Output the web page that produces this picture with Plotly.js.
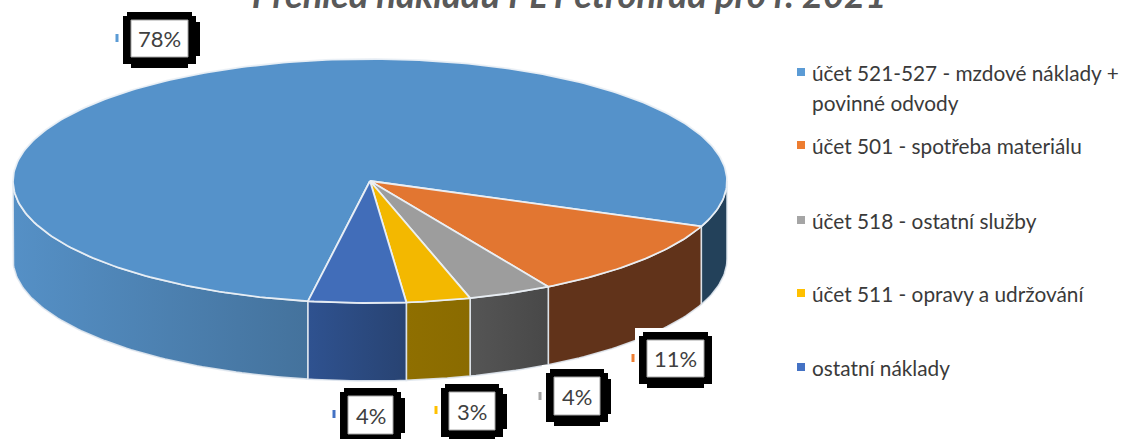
<!DOCTYPE html>
<html><head><meta charset="utf-8">
<script src="https://cdn.plot.ly/plotly-3.0.1.min.js"></script>
<style>html,body{margin:0;padding:0;background:#fff;overflow:hidden}</style>
</head><body><div id="chart" style="width:1135px;height:439px"></div>
<script>
// --- data ---
const categories = ['účet 521-527 - mzdové náklady +<br>povinné odvody','účet 501 - spotřeba materiálu','účet 518 - ostatní služby','účet 511 - opravy a udržování','ostatní náklady'];
const shares = [78.3, 10.6, 3.8, 2.9, 4.4];
const titleText = 'Přehled nákladů PL Petrohrad pro r. 2021';
// --- styles ---
const keyColors = ['#5B9BD5','#ED7D31','#A5A5A5','#FFC000','#4472C4'];
const topColors = ['#5592CA','#E27631','#9D9D9D','#F3B800','#416DB9'];
const wallLeft  = ['#5590C6','#61331A','#555555','#8F6F00','#2F5290'];
const wallRight = ['#44729C','#61331A','#484848','#8A6B00','#284372'];
const wallBackRight = '#23415A';
// --- layout helpers (pixel-mapped hidden axes) ---
const cx=370, cy=181, rx=357, ry=122, depth=78, startDeg=100;
const labelBoxes=[[131,188,20,57],[647,704,340,377],[554,600,377,415],[449,495,392,430],[348,393,396,434]];
const frameRight=[12,8,11,12,12];
const labelKeys=[[117,38],[633,358],[540,396],[436,410],[334,414]];
const legendKeyX=801, legendTextX=810, legendY=[72,145,220,293,367], legendLine=30;
const FONT='Lato, "Open Sans", sans-serif';

const rad=d=>d*Math.PI/180;
const px=t=>cx+rx*Math.cos(rad(t)), py=t=>cy+ry*Math.sin(rad(t));
function arc(a,b){const o=[];const n=Math.max(2,Math.ceil(Math.abs(b-a)));for(let i=0;i<=n;i++)o.push(a+(b-a)*i/n);return o;}

const total=shares.reduce((a,b)=>a+b,0);
let ang=startDeg; const spans=shares.map(v=>{const s=[ang,ang+v/total*360];ang=s[1];return s;});
const traces=[];
const edge={color:'rgba(225,232,240,0.9)',width:1.6};
function wall(a,b,c1,c2){
  const ts=arc(a,b), back=ts.slice().reverse();
  traces.push({type:'scatter',mode:'lines',hoverinfo:'skip',showlegend:false,
    x:ts.map(px).concat(back.map(px)).concat([px(a)]),
    y:ts.map(t=>py(t)).concat(back.map(t=>py(t)+depth)).concat([py(a)]),
    fill:'toself',fillcolor:c1,fillgradient:{type:'horizontal',colorscale:[[0,c1],[1,c2]]},line:edge});
}
spans.forEach((s,i)=>{
  [[0,180],[360,540]].forEach(([lo,hi],k)=>{
    const a=Math.max(s[0],lo), b=Math.min(s[1],hi);
    if(b>a){ if(k===1&&i===0) wall(a,b,wallBackRight,wallBackRight); else wall(a,b,wallLeft[i],wallRight[i]); }
  });
});
spans.forEach((s,i)=>{
  const ts=arc(s[0],s[1]);
  traces.push({type:'scatter',mode:'lines',hoverinfo:'skip',showlegend:false,
    x:[cx].concat(ts.map(px),[cx]), y:[cy].concat(ts.map(py),[cy]),
    fill:'toself',fillcolor:topColors[i],line:{color:'rgba(235,240,246,0.95)',width:1.8}});
});
traces.push({type:'scatter',mode:'markers',hoverinfo:'skip',showlegend:false,
  x:legendY.map(()=>legendKeyX),y:legendY,marker:{symbol:'square',size:8,color:keyColors,line:{width:0}}});

function frame(b,e){
  const [l,r,t,u]=b;
  const pts=[[l-4,t-8],[r+4,t-8],[r+4,t-4],[r+8,t-4],[r+8,t+2],[r+e,t+2],[r+e,u-1],[r+8,u-1],[r+8,u+7],[r,u+7],[r,u+11],
             [l,u+11],[l,u+7],[l-8,u+7],[l-8,t-4],[l-4,t-4]];
  return 'M'+pts.map(p=>p.join(',')).join('L')+'Z';
}
const annotations=[], shapes=[];
shares.forEach((v,i)=>{
  const b=labelBoxes[i];
  shapes.push({type:'rect',xref:'x',yref:'y',x0:b[0]-12,x1:b[1]+frameRight[i]+3,y0:b[2]-12,y1:b[3]+14,fillcolor:'#fff',line:{width:0}});
  shapes.push({type:'path',xref:'x',yref:'y',path:frame(b,frameRight[i]),fillcolor:'#000',line:{width:0}});
  shapes.push({type:'rect',xref:'x',yref:'y',x0:b[0],x1:b[1],y0:b[2],y1:b[3],fillcolor:'#fff',line:{color:'#A6A6A6',width:1}});
  annotations.push({xref:'x',yref:'y',x:(b[0]+b[1])/2,y:(b[2]+b[3])/2,xanchor:'center',yanchor:'middle',showarrow:false,
    text:Math.round(v)+'%',font:{family:FONT,size:22,color:'#404040'},align:'center'});
  const k=labelKeys[i];
  shapes.push({type:'rect',xref:'x',yref:'y',x0:k[0]-1.5,x1:k[0]+1.5,y0:k[1]-4,y1:k[1]+4,fillcolor:keyColors[i],line:{width:0}});
  categories[i].split('<br>').forEach((line,j)=>{
    annotations.push({xref:'x',yref:'y',x:legendTextX,y:legendY[i]+j*legendLine,xanchor:'left',yanchor:'middle',showarrow:false,
      text:line,align:'left',font:{family:FONT,size:20.8,color:'#3A3A3A'}});
  });
});
Plotly.newPlot('chart',traces,{
  width:1135,height:439,margin:{l:0,r:0,t:0,b:0},paper_bgcolor:'#fff',plot_bgcolor:'#fff',showlegend:false,
  title:{text:'<b><i>'+titleText+'</i></b>',font:{family:FONT,size:36.4,color:'#595959'},xref:'container',yref:'container',x:569/1135,xanchor:'center',y:1-8/439,yanchor:'bottom'},
  xaxis:{visible:false,range:[0,1135],fixedrange:true},
  yaxis:{visible:false,range:[439,0],fixedrange:true},
  annotations,shapes
},{displayModeBar:false,staticPlot:true});
</script></body></html>
